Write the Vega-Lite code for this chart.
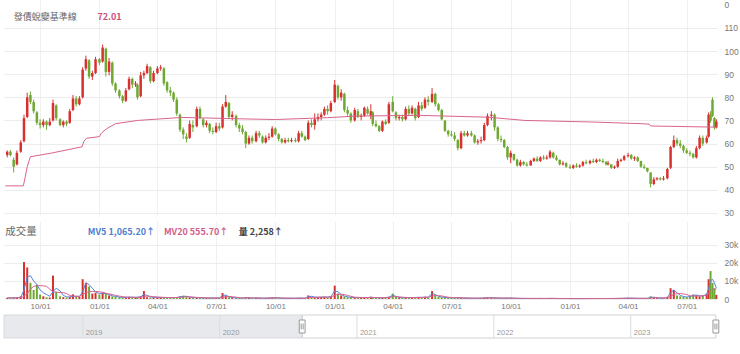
{
"$schema": "https://vega.github.io/schema/vega-lite/v6.json",
"padding": {"left": 3, "top": 0, "right": 0, "bottom": 0},
"background": "white",
"config": {
  "view": {"stroke": null},
  "font": "Liberation Sans",
  "axis": {"labelColor": "#777777", "labelFontSize": 8.5, "labelFont": "Liberation Sans", "gridColor": "#eeeeee", "domain": false, "ticks": false, "title": null, "minExtent": 0, "labelOverlap": false, "labelFlush": false}
},
"datasets": {
  "k": [
{"d":"2020-08-11","o":55,"h":57,"l":54,"c":56.5,"v":600,"mv5":700,"mv20":600},
{"d":"2020-08-16","o":56.5,"h":57.2,"l":54.5,"c":55,"v":500,"mv5":600,"mv20":600},
{"d":"2020-08-21","o":53,"h":54,"l":47.5,"c":50,"v":900,"mv5":650,"mv20":650},
{"d":"2020-08-26","o":51,"h":57,"l":50.5,"c":56,"v":700,"mv5":700,"mv20":650},
{"d":"2020-09-01","o":56.5,"h":61.5,"l":56,"c":60.5,"v":1500,"mv5":900,"mv20":700},
{"d":"2020-09-06","o":61,"h":72.5,"l":60.5,"c":71,"v":20500,"mv5":5000,"mv20":1500},
{"d":"2020-09-11","o":71.5,"h":82,"l":71,"c":80,"v":17500,"mv5":12000,"mv20":3000},
{"d":"2020-09-16","o":81,"h":82.5,"l":77,"c":78,"v":9000,"mv5":13000,"mv20":5500},
{"d":"2020-09-21","o":78,"h":79,"l":73,"c":74,"v":5000,"mv5":10000,"mv20":7000},
{"d":"2020-09-26","o":73.5,"h":74,"l":68,"c":69,"v":8000,"mv5":8000,"mv20":7400},
{"d":"2020-10-01","o":69,"h":70.5,"l":66.5,"c":68,"v":2500,"mv5":5000,"mv20":7400},
{"d":"2020-10-06","o":68,"h":70.5,"l":67,"c":69.5,"v":1500,"mv5":3500,"mv20":7300},
{"d":"2020-10-11","o":69.5,"h":70,"l":66,"c":68,"v":1000,"mv5":2500,"mv20":7000},
{"d":"2020-10-16","o":68,"h":71,"l":67.5,"c":69.5,"v":800,"mv5":1500,"mv20":5500},
{"d":"2020-10-21","o":70,"h":79,"l":69.5,"c":77.5,"v":13000,"mv5":4000,"mv20":4000},
{"d":"2020-10-26","o":76.5,"h":77,"l":70,"c":71,"v":4000,"mv5":6000,"mv20":3800},
{"d":"2020-11-01","o":70.5,"h":71,"l":67.5,"c":68,"v":1500,"mv5":4500,"mv20":3600},
{"d":"2020-11-06","o":68,"h":70,"l":67,"c":69.5,"v":1000,"mv5":2000,"mv20":3500},
{"d":"2020-11-11","o":69.5,"h":70,"l":67.5,"c":68.5,"v":800,"mv5":1200,"mv20":3000},
{"d":"2020-11-16","o":69,"h":75,"l":68.5,"c":74,"v":1200,"mv5":1100,"mv20":2000},
{"d":"2020-11-21","o":74.5,"h":81,"l":74,"c":79.5,"v":2600,"mv5":1600,"mv20":1600},
{"d":"2020-11-26","o":79.5,"h":80.5,"l":76,"c":77,"v":1500,"mv5":1500,"mv20":1500},
{"d":"2020-12-01","o":77,"h":80.5,"l":76.5,"c":79.5,"v":1200,"mv5":1400,"mv20":1500},
{"d":"2020-12-06","o":80,"h":93,"l":79.5,"c":92,"v":11000,"mv5":4000,"mv20":2500},
{"d":"2020-12-11","o":92.5,"h":98,"l":91.5,"c":96.5,"v":9000,"mv5":9000,"mv20":3500},
{"d":"2020-12-16","o":96,"h":96.5,"l":88,"c":89,"v":7000,"mv5":8000,"mv20":4000},
{"d":"2020-12-21","o":89,"h":91.5,"l":87.5,"c":90.5,"v":3000,"mv5":6000,"mv20":4200},
{"d":"2020-12-26","o":90.5,"h":97.5,"l":90,"c":96.5,"v":3500,"mv5":4000,"mv20":4200},
{"d":"2021-01-01","o":96.5,"h":97,"l":94,"c":95,"v":2500,"mv5":3000,"mv20":4000},
{"d":"2021-01-06","o":95.5,"h":102.8,"l":95,"c":101.5,"v":3500,"mv5":3200,"mv20":3800},
{"d":"2021-01-11","o":101,"h":101.5,"l":89,"c":91,"v":3000,"mv5":3000,"mv20":3200},
{"d":"2021-01-16","o":91,"h":97,"l":89.5,"c":95.5,"v":2000,"mv5":2500,"mv20":2800},
{"d":"2021-01-21","o":95,"h":95.5,"l":85,"c":86,"v":1500,"mv5":1800,"mv20":2500},
{"d":"2021-01-26","o":86,"h":86.5,"l":82,"c":83,"v":1200,"mv5":1400,"mv20":2000},
{"d":"2021-02-01","o":83,"h":83.5,"l":79.5,"c":80.5,"v":1000,"mv5":1100,"mv20":1600},
{"d":"2021-02-06","o":80.5,"h":81,"l":77.5,"c":78.5,"v":800,"mv5":900,"mv20":1300},
{"d":"2021-02-11","o":78.5,"h":84,"l":78,"c":83,"v":900,"mv5":900,"mv20":1100},
{"d":"2021-02-16","o":83.5,"h":89,"l":83,"c":88,"v":1200,"mv5":1000,"mv20":1000},
{"d":"2021-02-21","o":88,"h":88.5,"l":84,"c":85.5,"v":900,"mv5":1000,"mv20":1000},
{"d":"2021-02-26","o":85.5,"h":87,"l":84.5,"c":86,"v":800,"mv5":900,"mv20":950},
{"d":"2021-03-01","o":85.5,"h":86,"l":79,"c":80,"v":1000,"mv5":950,"mv20":950},
{"d":"2021-03-06","o":80.5,"h":91,"l":80,"c":89.5,"v":1500,"mv5":1200,"mv20":1000},
{"d":"2021-03-11","o":89.5,"h":91.5,"l":88,"c":90.5,"v":4400,"mv5":2500,"mv20":1500},
{"d":"2021-03-16","o":90.5,"h":94.5,"l":90,"c":93.5,"v":1000,"mv5":2000,"mv20":1600},
{"d":"2021-03-21","o":93,"h":93.5,"l":86,"c":87,"v":800,"mv5":1200,"mv20":1500},
{"d":"2021-03-26","o":87,"h":91.5,"l":86.5,"c":90.5,"v":900,"mv5":900,"mv20":1300},
{"d":"2021-04-01","o":90.5,"h":93.5,"l":90,"c":92.5,"v":1000,"mv5":900,"mv20":1100},
{"d":"2021-04-06","o":92.5,"h":94,"l":91.5,"c":93,"v":800,"mv5":850,"mv20":1000},
{"d":"2021-04-11","o":92.5,"h":93,"l":85,"c":86,"v":700,"mv5":750,"mv20":900},
{"d":"2021-04-16","o":86.5,"h":87,"l":82,"c":83,"v":900,"mv5":800,"mv20":850},
{"d":"2021-04-21","o":83,"h":84.5,"l":80.5,"c":82,"v":700,"mv5":800,"mv20":800},
{"d":"2021-04-26","o":82,"h":82.5,"l":78,"c":79,"v":800,"mv5":750,"mv20":800},
{"d":"2021-05-01","o":79,"h":80,"l":72,"c":73,"v":900,"mv5":850,"mv20":800},
{"d":"2021-05-06","o":72.5,"h":73,"l":65,"c":66,"v":1500,"mv5":1200,"mv20":900},
{"d":"2021-05-11","o":66,"h":67,"l":62,"c":64,"v":1800,"mv5":1500,"mv20":1100},
{"d":"2021-05-16","o":63,"h":64.5,"l":60.5,"c":62,"v":1500,"mv5":1500,"mv20":1300},
{"d":"2021-05-21","o":62.5,"h":70,"l":62,"c":68.5,"v":900,"mv5":1100,"mv20":1200},
{"d":"2021-05-26","o":68,"h":70,"l":65,"c":67,"v":700,"mv5":800,"mv20":1100},
{"d":"2021-06-01","o":67.5,"h":76,"l":67,"c":75,"v":600,"mv5":650,"mv20":900},
{"d":"2021-06-06","o":75,"h":76,"l":70.5,"c":71,"v":800,"mv5":700,"mv20":800},
{"d":"2021-06-11","o":70.5,"h":71,"l":67,"c":68,"v":600,"mv5":650,"mv20":700},
{"d":"2021-06-16","o":68,"h":70,"l":67,"c":69,"v":500,"mv5":550,"mv20":650},
{"d":"2021-06-21","o":68.5,"h":69,"l":64.5,"c":65.5,"v":600,"mv5":550,"mv20":600},
{"d":"2021-06-26","o":65.5,"h":67,"l":64,"c":65,"v":500,"mv5":550,"mv20":580},
{"d":"2021-07-01","o":65,"h":69,"l":64.5,"c":67.5,"v":600,"mv5":550,"mv20":560},
{"d":"2021-07-06","o":67.5,"h":69,"l":65.5,"c":66.5,"v":600,"mv5":580,"mv20":560},
{"d":"2021-07-11","o":67,"h":77,"l":66.5,"c":76,"v":3300,"mv5":1800,"mv20":900},
{"d":"2021-07-16","o":76,"h":81,"l":75.5,"c":78,"v":1800,"mv5":2200,"mv20":1300},
{"d":"2021-07-21","o":77.5,"h":78,"l":70.5,"c":71.5,"v":1000,"mv5":1300,"mv20":1400},
{"d":"2021-07-26","o":71.5,"h":74,"l":70,"c":72.5,"v":700,"mv5":800,"mv20":1300},
{"d":"2021-08-01","o":72,"h":72.5,"l":67,"c":68,"v":600,"mv5":650,"mv20":1000},
{"d":"2021-08-06","o":68,"h":69,"l":65,"c":66.5,"v":500,"mv5":550,"mv20":800},
{"d":"2021-08-11","o":66.5,"h":68,"l":64,"c":65,"v":500,"mv5":500,"mv20":600},
{"d":"2021-08-16","o":65,"h":65.5,"l":58,"c":60,"v":900,"mv5":700,"mv20":600},
{"d":"2021-08-21","o":60,"h":63.5,"l":59.5,"c":62.5,"v":700,"mv5":700,"mv20":650},
{"d":"2021-08-26","o":62.5,"h":63.5,"l":60,"c":61,"v":500,"mv5":550,"mv20":620},
{"d":"2021-09-01","o":61,"h":65.5,"l":60.5,"c":64.5,"v":600,"mv5":600,"mv20":600},
{"d":"2021-09-06","o":64.5,"h":65.5,"l":62.5,"c":63.5,"v":500,"mv5":550,"mv20":580},
{"d":"2021-09-11","o":63,"h":63.5,"l":60,"c":60.5,"v":400,"mv5":450,"mv20":550},
{"d":"2021-09-16","o":60.5,"h":63.5,"l":60,"c":62.5,"v":500,"mv5":480,"mv20":500},
{"d":"2021-09-21","o":62.5,"h":64.5,"l":61.5,"c":63,"v":600,"mv5":550,"mv20":500},
{"d":"2021-09-26","o":63,"h":67.5,"l":62.5,"c":66.5,"v":700,"mv5":650,"mv20":550},
{"d":"2021-10-01","o":66.5,"h":67,"l":63.5,"c":64,"v":800,"mv5":750,"mv20":600},
{"d":"2021-10-06","o":64,"h":64.5,"l":61,"c":62,"v":500,"mv5":600,"mv20":620},
{"d":"2021-10-11","o":62,"h":62.5,"l":60,"c":60.5,"v":400,"mv5":450,"mv20":580},
{"d":"2021-10-16","o":60.5,"h":62.5,"l":60,"c":61.5,"v":400,"mv5":400,"mv20":520},
{"d":"2021-10-21","o":61.5,"h":62.5,"l":60.5,"c":61,"v":500,"mv5":450,"mv20":480},
{"d":"2021-10-26","o":61,"h":62.5,"l":60.5,"c":61.5,"v":400,"mv5":450,"mv20":450},
{"d":"2021-11-01","o":61.5,"h":62.5,"l":60.5,"c":61,"v":400,"mv5":400,"mv20":430},
{"d":"2021-11-06","o":61,"h":65.5,"l":60.5,"c":64.5,"v":600,"mv5":500,"mv20":450},
{"d":"2021-11-11","o":64.5,"h":65.5,"l":62.5,"c":63,"v":500,"mv5":520,"mv20":470},
{"d":"2021-11-16","o":63,"h":63.5,"l":61,"c":61.5,"v":400,"mv5":450,"mv20":470},
{"d":"2021-11-21","o":62,"h":70,"l":61.5,"c":69,"v":2000,"mv5":1200,"mv20":700},
{"d":"2021-11-26","o":69,"h":70.5,"l":67,"c":68,"v":1200,"mv5":1500,"mv20":900},
{"d":"2021-12-01","o":68,"h":73,"l":66,"c":70.5,"v":900,"mv5":1000,"mv20":1000},
{"d":"2021-12-06","o":70.5,"h":73,"l":69.5,"c":71.5,"v":1000,"mv5":950,"mv20":1000},
{"d":"2021-12-11","o":71.5,"h":73.5,"l":70,"c":72.5,"v":1100,"mv5":1050,"mv20":1000},
{"d":"2021-12-16","o":72.5,"h":76,"l":72,"c":75,"v":1200,"mv5":1100,"mv20":1050},
{"d":"2021-12-21","o":75,"h":76.5,"l":72.5,"c":74,"v":1000,"mv5":1050,"mv20":1050},
{"d":"2021-12-26","o":74,"h":78.5,"l":73.5,"c":77.5,"v":1500,"mv5":1300,"mv20":1100},
{"d":"2022-01-01","o":78,"h":87.5,"l":77.5,"c":85.5,"v":7400,"mv5":4400,"mv20":2000},
{"d":"2022-01-06","o":85,"h":85.5,"l":79,"c":80,"v":3000,"mv5":4000,"mv20":2600},
{"d":"2022-01-11","o":80,"h":83.5,"l":78.5,"c":82,"v":2000,"mv5":2500,"mv20":2600},
{"d":"2022-01-16","o":81.5,"h":82,"l":73.5,"c":74.5,"v":1500,"mv5":1700,"mv20":2500},
{"d":"2022-01-21","o":74.5,"h":76,"l":72,"c":73,"v":1000,"mv5":1200,"mv20":2000},
{"d":"2022-01-26","o":73,"h":73.5,"l":69,"c":70,"v":800,"mv5":900,"mv20":1500},
{"d":"2022-02-01","o":70,"h":75.5,"l":69.5,"c":74.5,"v":900,"mv5":850,"mv20":1000},
{"d":"2022-02-06","o":74,"h":75,"l":71,"c":71.5,"v":800,"mv5":850,"mv20":900},
{"d":"2022-02-11","o":71.5,"h":73,"l":70,"c":72,"v":700,"mv5":750,"mv20":850},
{"d":"2022-02-16","o":72,"h":76,"l":71.5,"c":75.5,"v":900,"mv5":800,"mv20":800},
{"d":"2022-02-21","o":75,"h":76,"l":72.5,"c":73,"v":800,"mv5":800,"mv20":800},
{"d":"2022-02-26","o":72,"h":77,"l":70.5,"c":74,"v":1200,"mv5":1000,"mv20":850},
{"d":"2022-03-01","o":73.5,"h":74,"l":67.5,"c":68.5,"v":800,"mv5":900,"mv20":850},
{"d":"2022-03-06","o":68.5,"h":70,"l":67,"c":67.5,"v":700,"mv5":750,"mv20":800},
{"d":"2022-03-11","o":67.5,"h":68,"l":65,"c":65.5,"v":600,"mv5":650,"mv20":750},
{"d":"2022-03-16","o":65.5,"h":70,"l":65,"c":69.5,"v":700,"mv5":650,"mv20":700},
{"d":"2022-03-21","o":69.5,"h":70.5,"l":68,"c":68.5,"v":900,"mv5":800,"mv20":700},
{"d":"2022-03-26","o":69,"h":78,"l":68.5,"c":77,"v":1200,"mv5":1000,"mv20":800},
{"d":"2022-04-01","o":78,"h":80.5,"l":73.5,"c":74,"v":3000,"mv5":2000,"mv20":1200},
{"d":"2022-04-06","o":73.5,"h":74,"l":70,"c":71,"v":1200,"mv5":1500,"mv20":1300},
{"d":"2022-04-11","o":71,"h":72.5,"l":70,"c":71.5,"v":800,"mv5":900,"mv20":1200},
{"d":"2022-04-16","o":71.5,"h":72.5,"l":69.5,"c":70.5,"v":700,"mv5":750,"mv20":1000},
{"d":"2022-04-21","o":70.5,"h":76,"l":70,"c":75,"v":800,"mv5":750,"mv20":900},
{"d":"2022-04-26","o":75,"h":76.5,"l":72,"c":73,"v":700,"mv5":750,"mv20":800},
{"d":"2022-05-01","o":73,"h":76.5,"l":72.5,"c":75.5,"v":800,"mv5":750,"mv20":780},
{"d":"2022-05-06","o":75,"h":75.5,"l":70,"c":71,"v":900,"mv5":850,"mv20":800},
{"d":"2022-05-11","o":71.5,"h":78,"l":71,"c":76.5,"v":1000,"mv5":950,"mv20":850},
{"d":"2022-05-16","o":76.5,"h":78,"l":74,"c":75,"v":900,"mv5":900,"mv20":880},
{"d":"2022-05-21","o":75.5,"h":80,"l":75,"c":79,"v":1200,"mv5":1000,"mv20":950},
{"d":"2022-05-26","o":79,"h":80.5,"l":76.5,"c":78,"v":1000,"mv5":1000,"mv20":980},
{"d":"2022-06-01","o":78,"h":84,"l":77.5,"c":81.5,"v":4400,"mv5":3000,"mv20":1600},
{"d":"2022-06-06","o":81.5,"h":82,"l":76,"c":77,"v":2000,"mv5":2500,"mv20":2000},
{"d":"2022-06-11","o":77,"h":77.5,"l":74,"c":74.5,"v":1200,"mv5":1500,"mv20":1900},
{"d":"2022-06-16","o":74.5,"h":75,"l":70,"c":70.5,"v":1000,"mv5":1100,"mv20":1700},
{"d":"2022-06-21","o":70,"h":70,"l":65,"c":65.5,"v":800,"mv5":900,"mv20":1300},
{"d":"2022-06-26","o":65.5,"h":66,"l":63,"c":64,"v":700,"mv5":750,"mv20":1000},
{"d":"2022-07-01","o":64,"h":65.5,"l":63,"c":63.5,"v":700,"mv5":700,"mv20":850},
{"d":"2022-07-06","o":63.5,"h":65,"l":61,"c":62,"v":600,"mv5":650,"mv20":750},
{"d":"2022-07-11","o":61.5,"h":62,"l":57,"c":58,"v":800,"mv5":700,"mv20":700},
{"d":"2022-07-16","o":58,"h":65.5,"l":57.5,"c":64.5,"v":600,"mv5":650,"mv20":650},
{"d":"2022-07-21","o":64.5,"h":65.5,"l":63,"c":63.5,"v":500,"mv5":550,"mv20":620},
{"d":"2022-07-26","o":63.5,"h":65.5,"l":63,"c":64.5,"v":500,"mv5":500,"mv20":580},
{"d":"2022-08-01","o":64.5,"h":65.5,"l":63,"c":63.5,"v":400,"mv5":450,"mv20":520},
{"d":"2022-08-06","o":63.5,"h":64,"l":60,"c":60.5,"v":500,"mv5":470,"mv20":500},
{"d":"2022-08-11","o":60.5,"h":62,"l":59.5,"c":61,"v":400,"mv5":450,"mv20":480},
{"d":"2022-08-16","o":61,"h":63,"l":60,"c":61.5,"v":500,"mv5":460,"mv20":470},
{"d":"2022-08-21","o":61.5,"h":69,"l":61,"c":68,"v":700,"mv5":600,"mv20":500},
{"d":"2022-08-26","o":68,"h":73,"l":67.5,"c":72,"v":800,"mv5":750,"mv20":560},
{"d":"2022-09-01","o":72,"h":74,"l":70,"c":72.5,"v":700,"mv5":700,"mv20":600},
{"d":"2022-09-06","o":72.5,"h":73,"l":65.5,"c":67,"v":600,"mv5":650,"mv20":620},
{"d":"2022-09-11","o":67,"h":67.5,"l":61,"c":62,"v":500,"mv5":550,"mv20":600},
{"d":"2022-09-16","o":62,"h":63.5,"l":60.5,"c":61.5,"v":400,"mv5":450,"mv20":560},
{"d":"2022-09-21","o":61.5,"h":62,"l":58,"c":58.5,"v":500,"mv5":480,"mv20":520},
{"d":"2022-09-26","o":58.5,"h":59,"l":53,"c":54,"v":600,"mv5":550,"mv20":500},
{"d":"2022-10-01","o":54,"h":57,"l":51.5,"c":56,"v":500,"mv5":520,"mv20":500},
{"d":"2022-10-06","o":55.5,"h":55.5,"l":52.5,"c":53,"v":400,"mv5":450,"mv20":480},
{"d":"2022-10-11","o":53,"h":53.5,"l":50,"c":50.5,"v":300,"mv5":350,"mv20":440},
{"d":"2022-10-16","o":50.5,"h":53,"l":50,"c":52,"v":300,"mv5":300,"mv20":400},
{"d":"2022-10-21","o":52,"h":52.5,"l":50.5,"c":51,"v":350,"mv5":320,"mv20":360},
{"d":"2022-10-26","o":51,"h":52,"l":50,"c":50.5,"v":300,"mv5":320,"mv20":330},
{"d":"2022-11-01","o":50.5,"h":53,"l":50.5,"c":52.5,"v":300,"mv5":300,"mv20":320},
{"d":"2022-11-06","o":52.5,"h":54,"l":52,"c":53.5,"v":350,"mv5":320,"mv20":320},
{"d":"2022-11-11","o":53.5,"h":54.5,"l":52,"c":52.5,"v":300,"mv5":300,"mv20":310},
{"d":"2022-11-16","o":52.5,"h":54.5,"l":52,"c":54,"v":350,"mv5":330,"mv20":320},
{"d":"2022-11-21","o":54,"h":55,"l":53,"c":53.5,"v":300,"mv5":310,"mv20":310},
{"d":"2022-11-26","o":53.5,"h":55,"l":53,"c":54,"v":300,"mv5":300,"mv20":310},
{"d":"2022-12-01","o":54,"h":57.2,"l":53.5,"c":56.5,"v":400,"mv5":350,"mv20":320},
{"d":"2022-12-06","o":56,"h":56.5,"l":53.5,"c":54,"v":300,"mv5":330,"mv20":320},
{"d":"2022-12-11","o":54,"h":55,"l":52.5,"c":53,"v":250,"mv5":280,"mv20":310},
{"d":"2022-12-16","o":53,"h":53,"l":50.5,"c":51,"v":250,"mv5":260,"mv20":300},
{"d":"2022-12-21","o":51,"h":52.5,"l":50.5,"c":51.5,"v":300,"mv5":280,"mv20":290},
{"d":"2022-12-26","o":51.5,"h":52,"l":49.5,"c":50,"v":250,"mv5":260,"mv20":280},
{"d":"2023-01-01","o":50,"h":51,"l":49,"c":49.5,"v":200,"mv5":230,"mv20":260},
{"d":"2023-01-06","o":49.5,"h":51,"l":49,"c":50.5,"v":250,"mv5":230,"mv20":250},
{"d":"2023-01-11","o":50.5,"h":51.5,"l":49.5,"c":50,"v":200,"mv5":220,"mv20":240},
{"d":"2023-01-16","o":50,"h":51,"l":49.5,"c":50.5,"v":250,"mv5":230,"mv20":230},
{"d":"2023-01-21","o":50.5,"h":52.5,"l":50,"c":52,"v":300,"mv5":260,"mv20":240},
{"d":"2023-01-26","o":52,"h":53,"l":51,"c":51.5,"v":250,"mv5":260,"mv20":240},
{"d":"2023-02-01","o":51.5,"h":53,"l":51,"c":52.5,"v":300,"mv5":280,"mv20":250},
{"d":"2023-02-06","o":52.5,"h":53.5,"l":51.5,"c":52,"v":250,"mv5":270,"mv20":260},
{"d":"2023-02-11","o":52,"h":53.5,"l":51.5,"c":53,"v":300,"mv5":280,"mv20":270},
{"d":"2023-02-16","o":53,"h":53.5,"l":52,"c":52.5,"v":250,"mv5":260,"mv20":270},
{"d":"2023-02-21","o":52.5,"h":53.5,"l":51.5,"c":52,"v":300,"mv5":280,"mv20":270},
{"d":"2023-02-26","o":52,"h":52.5,"l":50.5,"c":51,"v":250,"mv5":260,"mv20":270},
{"d":"2023-03-01","o":51,"h":52.5,"l":50.5,"c":51.5,"v":300,"mv5":280,"mv20":270},
{"d":"2023-03-06","o":51,"h":51,"l":49,"c":49.5,"v":350,"mv5":320,"mv20":280},
{"d":"2023-03-11","o":49.5,"h":50.5,"l":49,"c":50,"v":300,"mv5":310,"mv20":290},
{"d":"2023-03-16","o":50,"h":53.5,"l":49.5,"c":52.5,"v":400,"mv5":360,"mv20":310},
{"d":"2023-03-21","o":52.5,"h":53.5,"l":52,"c":53,"v":350,"mv5":370,"mv20":330},
{"d":"2023-03-26","o":53,"h":55,"l":52.5,"c":54.5,"v":500,"mv5":420,"mv20":360},
{"d":"2023-04-01","o":54.5,"h":56,"l":54,"c":55,"v":600,"mv5":500,"mv20":400},
{"d":"2023-04-06","o":55,"h":55.5,"l":53,"c":53.5,"v":400,"mv5":480,"mv20":420},
{"d":"2023-04-11","o":53.5,"h":54.5,"l":52.5,"c":54,"v":350,"mv5":400,"mv20":420},
{"d":"2023-04-16","o":54,"h":54.5,"l":52,"c":52.5,"v":300,"mv5":330,"mv20":400},
{"d":"2023-04-21","o":52.5,"h":52.5,"l":49.5,"c":50,"v":400,"mv5":360,"mv20":380},
{"d":"2023-04-26","o":50,"h":51,"l":49,"c":49.5,"v":350,"mv5":370,"mv20":360},
{"d":"2023-05-01","o":49.5,"h":49.5,"l":47.5,"c":48,"v":400,"mv5":380,"mv20":360},
{"d":"2023-05-06","o":47.5,"h":47.5,"l":41,"c":42.5,"v":1500,"mv5":900,"mv20":500},
{"d":"2023-05-11","o":42.5,"h":45.5,"l":42,"c":44.5,"v":800,"mv5":1000,"mv20":650},
{"d":"2023-05-16","o":44.5,"h":45.5,"l":44,"c":45,"v":500,"mv5":700,"mv20":700},
{"d":"2023-05-21","o":45,"h":45.5,"l":44,"c":44.5,"v":400,"mv5":450,"mv20":700},
{"d":"2023-05-26","o":44.5,"h":46,"l":44,"c":45,"v":400,"mv5":400,"mv20":650},
{"d":"2023-06-01","o":45,"h":49.5,"l":44.5,"c":49,"v":1200,"mv5":800,"mv20":700},
{"d":"2023-06-06","o":49.5,"h":59,"l":49,"c":58.5,"v":6000,"mv5":3500,"mv20":1500},
{"d":"2023-06-11","o":58.5,"h":63.5,"l":58,"c":61.5,"v":5000,"mv5":5000,"mv20":2500},
{"d":"2023-06-16","o":61.5,"h":62.5,"l":59,"c":60,"v":2000,"mv5":3500,"mv20":3000},
{"d":"2023-06-21","o":60,"h":61.5,"l":58,"c":59,"v":1500,"mv5":2000,"mv20":3000},
{"d":"2023-06-26","o":59,"h":59.5,"l":56,"c":57,"v":1200,"mv5":1400,"mv20":2800},
{"d":"2023-07-01","o":57,"h":58,"l":55.5,"c":56,"v":1000,"mv5":1100,"mv20":2500},
{"d":"2023-07-06","o":56,"h":57,"l":54.5,"c":55.5,"v":1500,"mv5":1300,"mv20":1800},
{"d":"2023-07-11","o":55.5,"h":56,"l":53.5,"c":54,"v":2500,"mv5":2000,"mv20":1600},
{"d":"2023-07-16","o":54,"h":59,"l":53.5,"c":58,"v":2000,"mv5":2200,"mv20":1600},
{"d":"2023-07-21","o":58,"h":63.5,"l":57.5,"c":62.5,"v":1500,"mv5":1800,"mv20":1700},
{"d":"2023-07-26","o":62.5,"h":63.5,"l":59,"c":60,"v":1800,"mv5":1700,"mv20":1800},
{"d":"2023-08-01","o":60.5,"h":63.5,"l":60,"c":62.5,"v":3000,"mv5":2500,"mv20":2000},
{"d":"2023-08-04","o":63,"h":73.5,"l":62.5,"c":72.5,"v":11000,"mv5":6000,"mv20":3000},
{"d":"2023-08-07","o":72.5,"h":74,"l":69,"c":70,"v":15500,"mv5":10000,"mv20":4500},
{"d":"2023-08-10","o":79,"h":80,"l":71.5,"c":72,"v":9000,"mv5":11000,"mv20":5500},
{"d":"2023-08-13","o":71,"h":71.5,"l":66,"c":67,"v":6000,"mv5":9000,"mv20":5500},
{"d":"2023-08-16","o":67,"h":70.5,"l":66.5,"c":69.5,"v":2258,"mv5":6000,"mv20":5500}
  ],
  "base": [
{"d":"2020-08-08","v":41.7},{"d":"2020-09-05","v":41.7},{"d":"2020-09-08","v":45.6},{"d":"2020-09-11","v":50},{"d":"2020-09-16","v":54.3},
{"d":"2020-10-19","v":55.9},{"d":"2020-12-05","v":58.6},{"d":"2020-12-08","v":61},{"d":"2020-12-12","v":62.3},{"d":"2021-01-01","v":63},
{"d":"2021-01-04","v":64.5},{"d":"2021-01-12","v":66.4},{"d":"2021-01-26","v":68.6},{"d":"2021-03-01","v":70},{"d":"2021-05-09","v":71.3},
{"d":"2021-08-24","v":70.6},{"d":"2021-10-01","v":70.4},{"d":"2021-12-21","v":71.2},{"d":"2022-02-03","v":71.9},{"d":"2022-05-13","v":72.2},
{"d":"2022-08-27","v":71.4},{"d":"2022-10-23","v":70},{"d":"2023-02-08","v":69.3},{"d":"2023-04-21","v":68.6},{"d":"2023-05-04","v":68.4},
{"d":"2023-05-06","v":67.6},{"d":"2023-08-16","v":67.1}
  ],
  "years": [
{"d":"2019-01-01","t":"2019"},{"d":"2020-01-01","t":"2020"},{"d":"2021-01-01","t":"2021"},{"d":"2022-01-01","t":"2022"},{"d":"2023-01-01","t":"2023"}
  ]
},
"vconcat": [
  {
    "spacing": 3,
    "vconcat": [
      {
        "width": 713,
        "height": 215,
        "encoding": {
          "x": {"field": "d", "type": "temporal",
                "scale": {"domain": [{"year":2020,"month":8,"date":6},{"year":2023,"month":8,"date":17}]},
                "axis": {"labels": false, "grid": true, "gridColor": "#f0f0f0",
                         "values": [{"year":2020,"month":10,"date":1},{"year":2021,"month":1,"date":1},{"year":2021,"month":4,"date":1},{"year":2021,"month":7,"date":1},{"year":2021,"month":10,"date":1},{"year":2022,"month":1,"date":1},{"year":2022,"month":4,"date":1},{"year":2022,"month":7,"date":1},{"year":2022,"month":10,"date":1},{"year":2023,"month":1,"date":1},{"year":2023,"month":4,"date":1},{"year":2023,"month":7,"date":1}]}},
          "y": {"type": "quantitative",
                "scale": {"domain": [29.1, 122.1], "nice": false, "zero": false},
                "axis": {"orient": "right", "tickCount": 10,
                         "labelExpr": "datum.value == 120 ? '0' : datum.label",
                         "labelOverlap": false, "labelAlign": "left", "labelBaseline": "middle", "labelPadding": 7, "grid": true,
                         "gridColor": "#ececec",
                         "gridOpacity": {"condition": {"test": "datum.value >= 120", "value": 0}, "value": 1}}}
        },
        "layer": [
          {
            "data": {"name": "k"},
            "mark": {"type": "rule", "strokeWidth": 1},
            "encoding": {
              "y": {"field": "l"},
              "y2": {"field": "h"},
              "color": {"condition": {"test": "datum.c >= datum.o", "value": "#d8302f"}, "value": "#6ea832"}
            }
          },
          {
            "data": {"name": "k"},
            "mark": {"type": "rule", "strokeWidth": 2.5},
            "encoding": {
              "y": {"field": "o"},
              "y2": {"field": "c"},
              "color": {"condition": {"test": "datum.c >= datum.o", "value": "#d8302f"}, "value": "#6ea832"}
            }
          },
          {
            "data": {"name": "base"},
            "mark": {"type": "line", "color": "#d9638f", "strokeWidth": 1},
            "encoding": {"y": {"field": "v"}}
          },
          {
            "data": {"values": [{"d": "2020-08-21", "v": 114.8, "t": "發債蛻變基準線"}]},
            "mark": {"type": "text", "align": "left", "baseline": "middle", "font": "Noto Sans CJK TC", "fontSize": 9, "fill": "#666666"},
            "encoding": {"y": {"field": "v"}, "text": {"field": "t"}}
          },
          {
            "data": {"values": [{"d": "2020-12-29", "v": 114.8, "t": "72.01"}]},
            "mark": {"type": "text", "align": "left", "baseline": "middle", "font": "Noto Sans CJK TC", "fontSize": 9, "fontWeight": "bold", "fill": "#c9507a"},
            "encoding": {"y": {"field": "v"}, "text": {"field": "t"}}
          }
        ]
      },
      {
        "width": 713,
        "height": 78,
        "encoding": {
          "x": {"field": "d", "type": "temporal",
                "scale": {"domain": [{"year":2020,"month":8,"date":6},{"year":2023,"month":8,"date":17}]},
                "axis": {"format": "%m/%d", "labelPadding": 3, "labelFontSize": 8, "grid": true, "gridColor": "#f0f0f0",
                         "values": [{"year":2020,"month":10,"date":1},{"year":2021,"month":1,"date":1},{"year":2021,"month":4,"date":1},{"year":2021,"month":7,"date":1},{"year":2021,"month":10,"date":1},{"year":2022,"month":1,"date":1},{"year":2022,"month":4,"date":1},{"year":2022,"month":7,"date":1},{"year":2022,"month":10,"date":1},{"year":2023,"month":1,"date":1},{"year":2023,"month":4,"date":1},{"year":2023,"month":7,"date":1}]}},
          "y": {"type": "quantitative",
                "scale": {"domain": [0, 43300], "nice": false},
                "axis": {"orient": "right", "tickCount": 4,
                         "labelExpr": "datum.value > 35000 ? '' : datum.value == 0 ? '0' : format(datum.value / 1000, 'd') + 'k'",
                         "labelOverlap": false, "labelAlign": "left", "labelBaseline": "middle", "labelPadding": 7, "grid": true,
                         "gridColor": "#ececec",
                         "gridOpacity": {"condition": {"test": "datum.value > 35000", "value": 0}, "value": 1}}}
        },
        "layer": [
          {
            "data": {"name": "k"},
            "mark": {"type": "rule", "strokeWidth": 2},
            "encoding": {
              "y": {"field": "v"},
              "y2": {"datum": 0},
              "color": {"condition": {"test": "datum.c >= datum.o", "value": "#d8302f"}, "value": "#6ea832"}
            }
          },
          {
            "data": {"name": "k"},
            "mark": {"type": "line", "color": "#4f86d8", "strokeWidth": 1},
            "encoding": {"y": {"field": "mv5"}}
          },
          {
            "data": {"name": "k"},
            "mark": {"type": "line", "color": "#d9638f", "strokeWidth": 1},
            "encoding": {"y": {"field": "mv20"}}
          },
          {
            "data": {"values": [{"d": "2020-08-08", "v": 37200, "t": "成交量"}]},
            "mark": {"type": "text", "align": "left", "baseline": "middle", "font": "Noto Sans CJK TC", "fontSize": 10.5, "color": "#666666"},
            "encoding": {"y": {"field": "v"}, "text": {"field": "t"}}
          },
          {
            "data": {"values": [
              {"d": "2020-12-14", "v": 37200, "t": "MV5 1,065.20↑", "g": "MV5"},
              {"d": "2021-04-11", "v": 37200, "t": "MV20 555.70↑", "g": "MV20"},
              {"d": "2021-08-05", "v": 37200, "t": "量 2,258↑", "g": "量"}
            ]},
            "mark": {"type": "text", "align": "left", "baseline": "middle", "font": "Noto Sans CJK TC", "fontSize": 9, "fontWeight": "bold"},
            "encoding": {
              "y": {"field": "v"},
              "text": {"field": "t"},
              "color": {"field": "g", "type": "nominal", "scale": {"domain": ["MV5", "MV20", "量"], "range": ["#4f7fd0", "#d0608a", "#444444"]}, "legend": null}
            }
          }
        ]
      }
    ]
  },
  {
    "width": 713,
    "height": 23,
    "layer": [
      {
        "data": {"values": [{"s": "2018-06-05", "e": "2020-08-08"}]},
        "mark": {"type": "rect", "fill": "#e7e9ec", "stroke": "#d6d9dd", "strokeWidth": 1},
        "encoding": {
          "x": {"field": "s", "type": "temporal", "scale": {"domain": [{"year":2018,"month":6,"date":5},{"year":2023,"month":8,"date":19}]}, "axis": null},
          "x2": {"field": "e"}
        }
      },
      {
        "data": {"name": "years"},
        "mark": {"type": "rule", "color": "#dcdcdc", "strokeWidth": 1},
        "encoding": {"x": {"field": "d", "type": "temporal"}}
      },
      {
        "data": {"name": "years"},
        "mark": {"type": "text", "align": "left", "baseline": "middle", "dx": 3, "fontSize": 7.5, "color": "#999999"},
        "encoding": {
          "x": {"field": "d", "type": "temporal"},
          "y": {"datum": 0.2, "type": "quantitative", "scale": {"domain": [0, 1]}, "axis": null},
          "text": {"field": "t"}
        }
      },
      {
        "data": {"values": [{"s": "2020-08-08", "e": "2023-08-16"}]},
        "mark": {"type": "rect", "fillOpacity": 0, "stroke": "#cfd2d6", "strokeWidth": 1},
        "encoding": {"x": {"field": "s", "type": "temporal"}, "x2": {"field": "e"}}
      },
      {
        "data": {"values": [{"d": "2020-08-08"}, {"d": "2023-08-16"}]},
        "mark": {"type": "point", "shape": "M-0.45,-1H0.45V1H-0.45ZM-0.15,-0.45V0.45M0.15,-0.45V0.45", "size": 169, "filled": false, "fill": "white", "fillOpacity": 1, "stroke": "#999999", "strokeWidth": 1, "opacity": 1},
        "encoding": {
          "x": {"field": "d", "type": "temporal"},
          "y": {"datum": 0.5, "type": "quantitative"}
        }
      }
    ]
  }
],
"spacing": 4
}
